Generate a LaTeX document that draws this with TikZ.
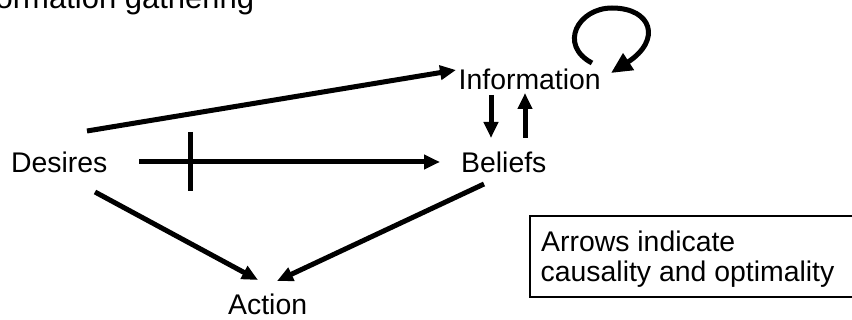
\documentclass[tikz,border=0pt]{standalone}
\usepackage{fontspec}
\setmainfont{Liberation Sans}
\usetikzlibrary{arrows.meta}
\begin{document}
\begin{tikzpicture}[x=1pt,y=-1pt,
  lbl/.style={anchor=base west,inner sep=0pt,font=\fontsize{28.4}{30}\selectfont},
  arr/.style={line width=5pt,-{Triangle[length=16pt,width=14pt]}},
  looparr/.style={line width=5pt,-{Triangle[length=21pt,width=19pt]}},
  bar/.style={line width=5pt},
  legend/.style={line width=1.6pt}]
\useasboundingbox (0,0) rectangle (852,320);
\clip (0,0) rectangle (852,320);

% heading, partly outside the page
\node[anchor=base west,inner sep=0pt,font=\fontsize{31}{34}\selectfont] (title) at (-39,9) {Information gathering};

% variables
\node[lbl] (inf) at (458.5,90) {Information};
\node[lbl] (des) at (11,173) {Desires};
\node[lbl] (bel) at (461,173) {Beliefs};
\node[lbl] (act) at (228,315) {Action};

% connector ends
\coordinate (desA) at (87,131);
\coordinate (infA) at (456,70);
\coordinate (desB) at (139,162);
\coordinate (belB) at (440,162);
\coordinate (desC) at (95,192);
\coordinate (actC) at (258,280);
\coordinate (belD) at (484,184);
\coordinate (actD) at (277,281);
\coordinate (infE) at (491,95);
\coordinate (belE) at (491,138);
\coordinate (belF) at (525,138);
\coordinate (infF) at (525,93);
\coordinate (loopS) at (592,63);
\coordinate (loopE) at (611,73);
\coordinate (cutT) at (190,132);
\coordinate (cutB) at (190,191);

\draw[arr] (desA) -- (infA);
\draw[arr] (desB) -- (belB);
\draw[bar] (cutT) -- (cutB);
\draw[arr] (desC) -- (actC);
\draw[arr] (belD) -- (actD);
\draw[arr] (infE) -- (belE);
\draw[arr] (belF) -- (infF);
\draw[looparr] (loopS) .. controls (558,45) and (578,8) .. (612,8)
                      .. controls (652,8) and (662,40) .. (loopE);

% legend box
\draw[legend] (530,216) rectangle (870,297);
\node[lbl] (note1) at (541,251.7) {Arrows indicate};
\node[lbl] (note2) at (540.5,281.7) {causality and optimality};
\end{tikzpicture}
\end{document}
